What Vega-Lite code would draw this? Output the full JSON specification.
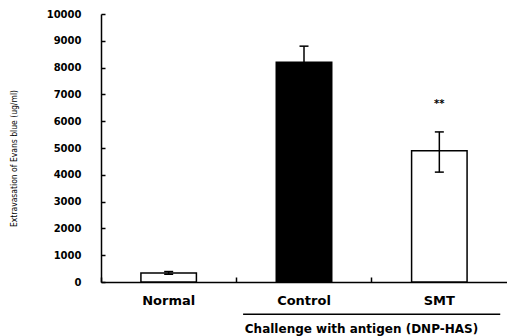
{
  "$schema": "https://vega.github.io/schema/vega-lite/v6.json",
  "width": 406,
  "height": 268,
  "autosize": {"type": "none"},
  "padding": {"left": 101, "top": 14, "right": 0, "bottom": 54},
  "background": "white",
  "config": {
    "view": {"stroke": null},
    "font": "DejaVu Sans",
    "axisY": {
      "tickCount": 10, "labelOverlap": false,
      "grid": false, "domainColor": "black", "domainWidth": 1.5,
      "tickColor": "black", "tickSize": -4, "tickWidth": 1.5,
      "labelFont": "DejaVu Sans", "labelFontWeight": "bold", "labelFontSize": 10,
      "labelColor": "black", "labelPadding": 24, "format": "d"
    }
  },
  "data": {"values": [
    {"group": "Normal", "mean": 340, "lo": 290, "hi": 390, "sig": ""},
    {"group": "Control", "mean": 8200, "lo": 7600, "hi": 8800, "sig": ""},
    {"group": "SMT", "mean": 4900, "lo": 4100, "hi": 5600, "sig": "**"}
  ]},
  "encoding": {
    "x": {
      "field": "group", "type": "nominal",
      "scale": {"domain": ["Normal", "Control", "SMT"], "paddingInner": 0, "paddingOuter": 0},
      "axis": {
        "bandPosition": 0, "labelAngle": 0,
        "domainColor": "black", "domainWidth": 1.5,
        "tickColor": "black", "tickSize": -5, "tickWidth": 1.5,
        "labelFont": "DejaVu Sans", "labelFontWeight": "bold", "labelFontSize": 13,
        "labelColor": "black", "labelPadding": 23, "labelBaseline": "middle",
        "title": "Challenge with antigen (DNP-HAS)",
        "titleFont": "DejaVu Sans", "titleFontWeight": "bold", "titleFontSize": 12,
        "titleColor": "black", "titleX": 260, "titleY": 46, "titleBaseline": "middle",
        "titleAlign": "center"
      }
    }
  },
  "layer": [
    {
      "mark": {"type": "bar", "width": {"band": 0.41}, "stroke": "black", "strokeWidth": 1.5},
      "encoding": {
        "y": {
          "field": "mean", "type": "quantitative",
          "scale": {"domain": [0, 10000], "nice": false},
          "axis": {
            "title": "Extravasation of Evans blue (ug/ml)",
            "titleFont": "DejaVu Sans Condensed", "titleFontSize": 8.5, "titleFontWeight": "normal",
            "titleColor": "black", "titleX": -88, "titleY": 144, "titleBaseline": "middle",
            "titleAlign": "center", "titleAngle": -90
          }
        },
        "fill": {
          "field": "group", "type": "nominal",
          "scale": {"domain": ["Normal", "Control", "SMT"], "range": ["white", "black", "white"]},
          "legend": null
        }
      }
    },
    {
      "mark": {"type": "rule", "strokeWidth": 1.5, "color": "black"},
      "encoding": {
        "y": {"field": "lo", "type": "quantitative"},
        "y2": {"field": "hi"}
      }
    },
    {
      "mark": {"type": "tick", "size": 9, "thickness": 1.5, "color": "black", "opacity": 1},
      "encoding": {"y": {"field": "hi", "type": "quantitative"}}
    },
    {
      "mark": {"type": "tick", "size": 9, "thickness": 1.5, "color": "black", "opacity": 1},
      "encoding": {"y": {"field": "lo", "type": "quantitative"}}
    },
    {
      "mark": {"type": "text", "font": "DejaVu Sans", "fontWeight": "bold", "fontSize": 10, "baseline": "middle", "color": "black"},
      "encoding": {
        "y": {"datum": 6650, "type": "quantitative"},
        "text": {"field": "sig"}
      }
    },
    {
      "data": {"values": [{"from": "Control", "to": "SMT"}]},
      "mark": {"type": "rule", "strokeWidth": 1.5, "color": "black", "clip": false},
      "encoding": {
        "x": {"field": "from", "type": "nominal", "bandPosition": 0.05},
        "x2": {"field": "to", "bandPosition": 0.95},
        "y": {"datum": -1200, "type": "quantitative"}
      }
    }
  ]
}
